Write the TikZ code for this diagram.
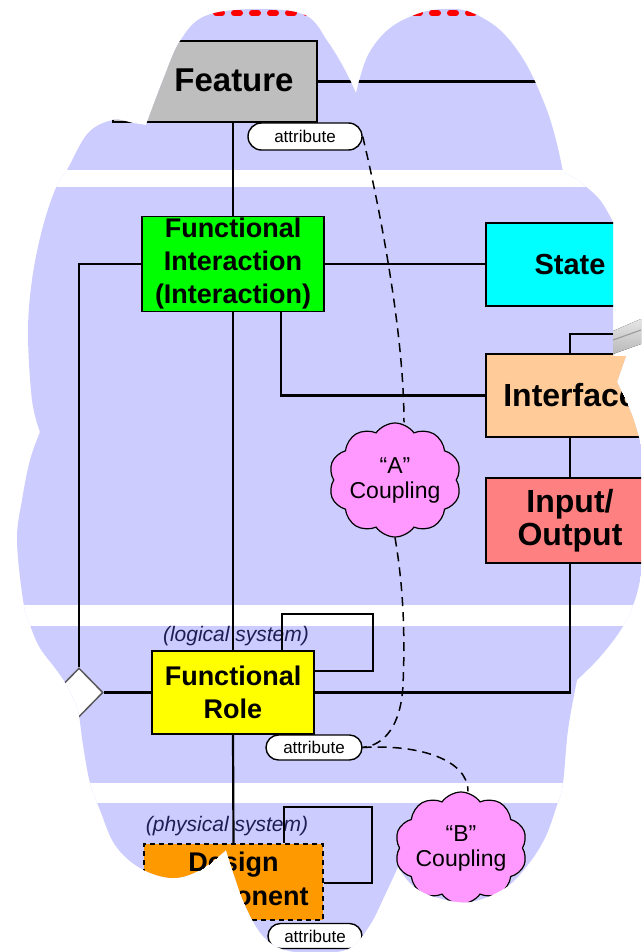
\documentclass[tikz,border=0pt]{standalone}
\usepackage{fontspec}
\setmainfont{Liberation Sans}
\usetikzlibrary{shapes.geometric,shapes.misc,shapes.symbols}
\definecolor{lavender}{HTML}{CCCCFF}
\definecolor{featgray}{HTML}{BEBEBE}
\definecolor{fgreen}{HTML}{00FF00}
\definecolor{fcyan}{HTML}{00FFFF}
\definecolor{peach}{HTML}{FFCC99}
\definecolor{salmon}{HTML}{FF8080}
\definecolor{fyellow}{HTML}{FFFF00}
\definecolor{forange}{HTML}{FF9900}
\definecolor{cloudpink}{HTML}{FF99FF}
\definecolor{sysblue}{RGB}{30,30,85}

\begin{document}
\begin{tikzpicture}[x=1pt, y=-1pt,
  elem/.style = {shape=rectangle, draw, line width=1.6, inner sep=0,
    align=center, font=\bfseries\fontsize{27}{33}\selectfont},
  pill/.style = {rounded rectangle, draw, fill=white, line width=1.4,
    inner sep=0, font=\fontsize{17}{17}\selectfont},
  couple/.style = {cloud, cloud puffs=10, cloud puff arc=110,
    cloud ignores aspect, draw, fill=cloudpink, line width=1.2,
    inner sep=0, align=center, font=\fontsize{23}{25}\selectfont},
  sys/.style = {text=sysblue, font=\itshape\fontsize{21}{21}\selectfont},
  link/.style = {line width=2.2},
  tie/.style = {line width=1.5, dash pattern=on 9 off 6},
 ]
\useasboundingbox (0,0) rectangle (641,952);

\begin{scope}
% cloud shaped cut-out
\clip plot[smooth, tension=0.6] coordinates {(146,125) (163,80) (180,41) (205,16) (255,9) (305,15) (328,42) (345,70) (356,93)}
  -- plot[smooth, tension=0.6] coordinates {(356,93) (368,55) (390,28) (420,13) (445,9) (470,12) (500,30) (525,62) (545,105) (556,140) (563,172)}
  -- plot[smooth, tension=0.6] coordinates {(563,172) (580,182) (600,200) (613,222)}
  -- (613,356) -- (626,356) -- (617,382)
  -- plot[smooth, tension=0.6] coordinates {(617,382) (632,415) (641,445)}
  -- (641,575)
  -- plot[smooth, tension=0.6] coordinates {(641,575) (635,600) (622,628) (600,657) (577,680)}
  -- plot[smooth, tension=0.6] coordinates {(577,680) (568,730) (563,783) (557,805) (545,838) (527,866) (505,888) (470,902) (435,897) (412,885) (398,867)}
  -- plot[smooth, tension=0.6] coordinates {(398,867) (385,895) (370,925) (350,948) (320,953) (285,950) (262,935) (245,905) (234,875) (226,850)}
  -- plot[smooth, tension=0.6] coordinates {(226,850) (200,870) (172,878) (140,868) (115,845) (100,810) (90,783) (83,745) (79,715) (76,704)}
  -- plot[smooth, tension=0.6] coordinates {(76,704) (66,684) (55,668) (40,648) (30,625) (23,600) (17,540) (22,500) (30,460) (40,432)}
  -- plot[smooth, tension=0.6] coordinates {(40,432) (32,400) (28,333) (32,280) (42,230) (55,190) (67,170) (88,133) (113,120) (133,123) (146,125)}
  -- cycle;
\fill[lavender] (0,0) rectangle (641,952);
\fill[white] (0,170) rectangle (641,187);
\fill[white] (0,605) rectangle (641,626);
\fill[white] (0,783) rectangle (641,803);
\draw[red, line width=6, line cap=round, dash pattern=on 6 off 12] (0,13) -- (641,13);

\node[elem, fill=featgray, minimum width=204, minimum height=81] (feature) at (215,81.5) {};
\node[font=\bfseries\fontsize{33}{33}\selectfont] (featurelbl) at (234,80) {Feature};
\node[pill, minimum width=114, minimum height=27] (pill1) at (305,136.5) {attribute};
\node[elem, fill=fgreen, minimum width=182, minimum height=95] (fi) at (233,264) {Functional\\Interaction\\(Interaction)};
\node[elem, fill=fcyan, minimum width=168, minimum height=83,
  font=\bfseries\fontsize{29}{33}\selectfont] (state) at (570,264.5) {State};
\node[elem, fill=peach, minimum width=168, minimum height=83,
  font=\bfseries\fontsize{32}{33}\selectfont] (iface) at (570,395.5) {Interface};
\node[elem, fill=salmon, minimum width=168, minimum height=85,
  font=\bfseries\fontsize{32}{33}\selectfont] (io) at (570,520.5) {Input/\\Output};
\node[couple, minimum width=132, minimum height=114] (ca) at (395,480) {“A”\\Coupling};
\node[sys] (logsys) at (236,636) {(logical system)};
\node[elem, fill=fyellow, minimum width=162, minimum height=83] (fr) at (233,692.5) {Functional\\Role};
\node[diamond, draw=gray!70!black, fill=white, line width=1.5, inner sep=0,
  minimum width=48, minimum height=49] (agg) at (79,692.5) {};
\node[pill, minimum width=96, minimum height=25] (pill2) at (314,747.5) {attribute};
\node[sys] (physsys) at (227,826) {(physical system)};
\node[elem, fill=forange, dash pattern=on 5 off 4, minimum width=179, minimum height=76,
  font=\bfseries\fontsize{27}{34}\selectfont] (dc) at (233.5,882) {Design\\Component};
\node[pill, minimum width=94, minimum height=25] (pill3) at (315,936) {attribute};
\node[couple, minimum width=122, minimum height=112] (cb) at (461,848) {“B”\\Coupling};

\draw[link] (fi.north |- feature.south) -- (fi.north);
\draw[link] (feature.east) -- ++(330,0);
\draw[link] (fi.east) -- (fi.east -| state.west);
\draw[link] (fi.west) -| (agg.north);
\draw[link] (agg.east) -- (fr.west);
\draw[link] (281,0 |- fi.south) |- (iface.west);
\draw[link] (fi.south) -- (fr.north);
\draw[link] (iface.north) |- (641,334);
\draw[link] (iface.south) -- (io.north);
\draw[link] (io.south) |- (fr.east);
\draw[link] (fr.south) -- (dc.north);
\draw[link] (282,0 |- fr.north) |- (373,614) |- (fr.east |- 0,671);
\draw[link] (284,0 |- dc.north) |- (372,807) |- (dc.east |- 0,883);

\draw[tie] (pill1.east) .. controls (378,200) and (404,330) .. ([xshift=9]ca.north);
\draw[tie] (ca.south) .. controls (404,590) and (405,640) .. (403,685)
  .. controls (401,725) and (385,745) .. (pill2.east);
\draw[tie] (pill2.east) .. controls (420,744) and (468,760) .. ([xshift=7]cb.north);
\end{scope}

% grey streak at the right edge
\fill[top color=gray!20, bottom color=gray!55] (613,331) -- (641,319) -- (641,344) -- (613,354) -- cycle;
\draw[gray!75, line width=1.2] (613,340) -- (641,330);
\end{tikzpicture}
\end{document}
